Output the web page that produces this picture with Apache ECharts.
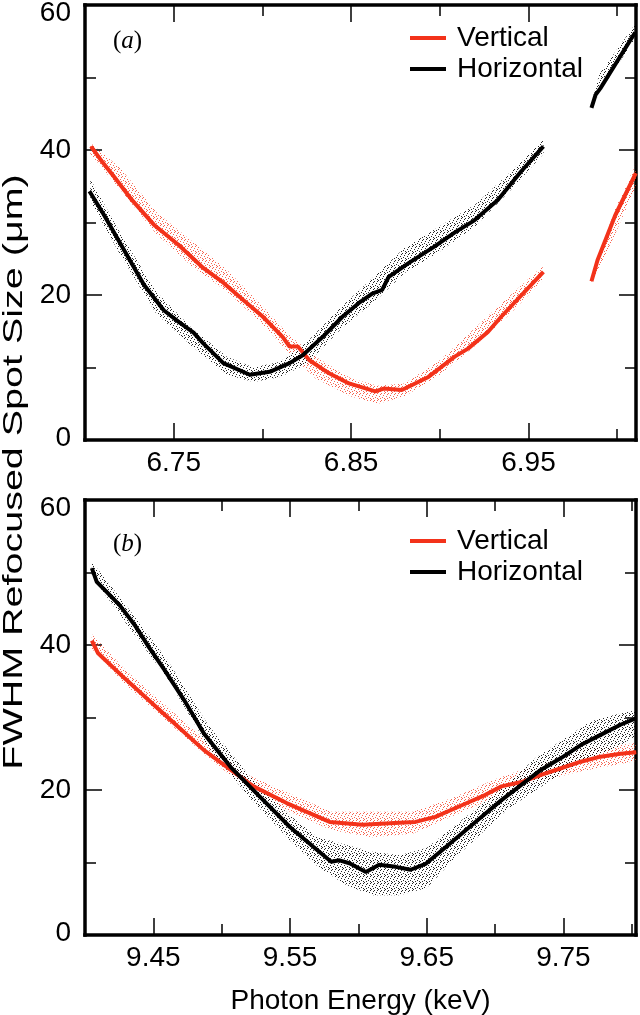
<!DOCTYPE html>
<html><head><meta charset="utf-8">
<script src="https://cdn.jsdelivr.net/npm/echarts@6/dist/echarts.min.js"></script>
<style>html,body{margin:0;padding:0;background:#fff}#c{width:640px;height:1015px}</style>
</head><body><div id="c"></div>
<script>
// ---------------- data ----------------
const seriesNames = ['Vertical', 'Horizontal'];
const panelLabels = ['a', 'b'];
const xTickLabelsA = ['6.75', '6.85', '6.95'];
const xTickLabelsB = ['9.45', '9.55', '9.65', '9.75'];
const yTickLabels = ['0', '20', '40', '60'];
const xTitle = 'Photon Energy (keV)';
const yTitle = 'FWHM Refocused Spot Size (\u03bcm)';
const xRangeA = [6.70, 7.0106];
const xRangeB = [9.40, 9.8031];
const yRange = [0, 60];

// panel (a) lines  [photon energy keV, FWHM um]
const vertA1 = [[6.7034,40.5],[6.709,38.6],[6.7164,36.3],[6.7258,33.3],[6.7388,29.7],[6.7528,26.9],[6.7668,23.7],[6.778,21.7],[6.7892,19.3],[6.8003,17.0],[6.8115,14.2],[6.8153,12.9],[6.82,12.9],[6.8265,11.0],[6.8376,9.2],[6.8488,7.8],[6.8637,6.7],[6.8684,7.1],[6.8786,6.9],[6.8936,8.7],[6.9084,11.5],[6.9159,12.6],[6.9271,14.9],[6.9346,17.0],[6.9584,23.2]];
const vertA2 = [[6.9855,21.9],[6.9889,24.8],[6.9989,31.0],[7.0105,36.8]];
const horA1 = [[6.7025,34.3],[6.7108,31.0],[6.722,26.2],[6.7332,21.4],[6.7444,17.9],[6.7528,16.3],[6.7612,14.8],[6.7668,13.3],[6.778,10.6],[6.7929,9.0],[6.8041,9.4],[6.8153,10.6],[6.8227,11.7],[6.8339,14.2],[6.8451,17.0],[6.8544,18.9],[6.8619,20.2],[6.8675,20.7],[6.8712,22.5],[6.8824,24.4],[6.8971,26.7],[6.9083,28.6],[6.9195,30.3],[6.9327,33.1],[6.9457,37.0],[6.9584,40.5]];
const horA2 = [[6.9855,45.8],[6.9878,47.6],[6.9905,48.5],[7.0101,56.2]];
// panel (a) measurement clouds  [keV, low, high]
const cloudVertA1 = [[6.703,39.5,41.0],[6.72,34.5,37.5],[6.74,28.5,31.5],[6.76,24.0,27.5],[6.78,20.5,23.5],[6.80,16.0,18.5],[6.815,12.0,14.5],[6.83,8.5,11.5],[6.85,6.0,8.5],[6.865,5.0,7.5],[6.88,6.0,7.8],[6.90,9.0,11.0],[6.92,13.0,15.5],[6.94,17.5,20.0],[6.958,22.0,24.0]];
const cloudVertA2 = [[6.9855,21.5,22.5],[6.999,28.5,32.0],[7.0105,35.0,38.0]];
const cloudHorA1 = [[6.703,33.0,36.0],[6.72,25.5,28.5],[6.74,17.5,20.5],[6.76,13.0,15.5],[6.78,9.0,11.5],[6.795,8.0,10.0],[6.81,8.7,10.8],[6.825,10.5,13.5],[6.845,15.5,18.5],[6.865,19.5,23.0],[6.88,23.0,26.5],[6.90,26.0,29.5],[6.92,29.5,32.5],[6.94,34.5,37.0],[6.9585,39.5,41.5]];
const cloudHorA2 = [[6.9855,45.5,46.5],[6.99,48.0,50.5],[7.0105,55.5,57.5]];

// panel (b) lines
const vertB = [[9.4050,40.6],[9.4094,38.9],[9.4290,35.4],[9.4507,31.7],[9.4689,28.6],[9.4870,25.5],[9.5064,22.8],[9.5233,20.5],[9.5475,18.2],[9.5790,15.6],[9.6031,15.2],[9.6225,15.4],[9.6418,15.6],[9.6563,16.3],[9.6757,17.9],[9.6926,19.3],[9.7047,20.5],[9.7192,21.1],[9.7337,22.1],[9.7482,23.0],[9.7627,23.9],[9.7772,24.6],[9.7917,25.0],[9.8033,25.2]];
const horB = [[9.4050,50.6],[9.4086,48.7],[9.4144,47.6],[9.4253,45.5],[9.4362,42.8],[9.4471,39.6],[9.4580,36.6],[9.4725,32.4],[9.4870,27.8],[9.5064,23.2],[9.5257,19.5],[9.5499,14.9],[9.5668,12.2],[9.5801,10.1],[9.5862,10.3],[9.5935,9.9],[9.6055,8.7],[9.6152,9.7],[9.6273,9.4],[9.6382,9.0],[9.6491,9.8],[9.6612,11.7],[9.6757,14.0],[9.6902,16.3],[9.7047,18.6],[9.7192,20.7],[9.7337,22.8],[9.7482,24.4],[9.7627,26.2],[9.7772,27.6],[9.7917,29.0],[9.8033,29.9]];
const cloudVertB = [[9.405,39.5,41.5],[9.43,34.5,36.5],[9.46,29.5,31.5],[9.49,24.5,26.5],[9.52,20.0,22.0],[9.55,17.0,19.5],[9.58,14.5,17.0],[9.61,13.5,17.0],[9.64,14.0,17.0],[9.67,16.5,19.0],[9.70,19.0,21.5],[9.73,21.0,23.5],[9.76,22.5,25.5],[9.803,24.0,26.5]];
const cloudHorB = [[9.405,49.5,51.5],[9.43,43.0,45.5],[9.46,35.5,38.0],[9.49,26.0,29.0],[9.52,19.0,22.0],[9.55,13.0,16.5],[9.57,9.5,13.5],[9.59,7.0,12.5],[9.61,5.5,11.5],[9.63,5.5,11.0],[9.65,6.5,12.0],[9.67,10.5,15.0],[9.69,14.0,18.0],[9.71,17.5,21.0],[9.73,20.0,24.5],[9.75,22.5,27.0],[9.77,24.5,29.5],[9.79,26.0,30.5],[9.803,27.5,31.0]];

// ---------------- style / layout ----------------
const FONT = '"Liberation Sans", Arial, Helvetica, sans-serif';
const SERIF = '"Liberation Serif", "Times New Roman", serif';
const RED = '#f3321a';
const BLACK = '#000000';
const W = 640;
const GL = 85, GR = 4;               // data-grid left / right
const GW = W - GL - GR;
const PANELS = [{top: 5, height: 435}, {top: 500, height: 435}];
const AXW = 3.5, TKW = 1.5, MINLEN = 11, MAJLEN = 17;

function speckle(color, size, pts) {
  const c = document.createElement('canvas');
  c.width = size; c.height = size;
  const g = c.getContext('2d');
  g.fillStyle = color;
  pts.forEach(p => g.fillRect(p[0], p[1], 1, 1));
  return {image: c, repeat: 'repeat'};
}
const DOTS = [[0,0],[3,1],[5,3],[1,4],[4,5],[6,6],[2,2],[6,1],[2,6]];
const blackFill = speckle('rgba(0,0,0,0.85)', 7, DOTS);
const redFill = speckle('rgba(245,60,35,0.8)', 7, DOTS);

function helperLeft(range, firstLabel) {
  return GL + (parseFloat(firstLabel) - range[0]) * GW / (range[1] - range[0]);
}

const grids = [
  {left: GL, right: GR, top: PANELS[0].top, height: PANELS[0].height},
  {left: helperLeft(xRangeA, xTickLabelsA[0]), right: GR, top: PANELS[0].top, height: PANELS[0].height},
  {left: GL, right: GR, top: PANELS[1].top, height: PANELS[1].height},
  {left: helperLeft(xRangeB, xTickLabelsB[0]), right: GR, top: PANELS[1].top, height: PANELS[1].height}
].map(g => Object.assign({outerBoundsMode: 'none', containLabel: false, show: false}, g));

const labelStyle = {fontSize: 28, fontFamily: FONT, color: '#000'};

function frameX(grid, pos, range) {
  return {type: 'value', gridIndex: grid, position: pos, min: range[0], max: range[1], interval: 0.05,
    axisLine: {show: true, onZero: false, lineStyle: {color: BLACK, width: AXW, cap: 'square'}},
    axisTick: {show: true, inside: true, length: MINLEN, lineStyle: {color: BLACK, width: TKW}},
    axisLabel: {show: false}, splitLine: {show: false}, minorTick: {show: false}};
}
function majorX(grid, pos, range, labels) {
  return {type: 'value', gridIndex: grid, position: pos, min: parseFloat(labels[0]), max: range[1], interval: 0.1,
    axisLine: {show: false, onZero: false},
    axisTick: {show: true, inside: true, length: MAJLEN, lineStyle: {color: BLACK, width: TKW}},
    axisLabel: pos === 'bottom' ? Object.assign({show: true, margin: 9, showMinLabel: true, showMaxLabel: true, hideOverlap: false,
      formatter: v => { const s = v.toFixed(2); return labels.indexOf(s) >= 0 ? s : ''; }}, labelStyle) : {show: false},
    splitLine: {show: false}};
}
function frameY(grid, pos) {
  return {type: 'value', gridIndex: grid, position: pos, min: yRange[0], max: yRange[1], interval: 10,
    axisLine: {show: true, onZero: false, lineStyle: {color: BLACK, width: AXW, cap: 'square'}},
    axisTick: {show: true, inside: true, length: MINLEN, lineStyle: {color: BLACK, width: TKW}},
    axisLabel: {show: false}, splitLine: {show: false}};
}
function majorY(grid, pos) {
  return {type: 'value', gridIndex: grid, position: pos, min: yRange[0], max: yRange[1], interval: 20,
    axisLine: {show: false, onZero: false},
    axisTick: {show: true, inside: true, length: MAJLEN, lineStyle: {color: BLACK, width: TKW}},
    axisLabel: pos === 'left' ? Object.assign({show: true, margin: 14, showMinLabel: true, showMaxLabel: true, hideOverlap: false,
      formatter: v => { const s = String(v); if (yTickLabels.indexOf(s) < 0) return '';
        if (v === yRange[1]) return '{t|' + s + '}'; if (v === yRange[0]) return '{b|' + s + '}'; return s; },
      rich: {t: Object.assign({padding: [16, 0, 0, 0]}, labelStyle), b: Object.assign({padding: [0, 0, 4, 0]}, labelStyle)}}, labelStyle) : {show: false},
    splitLine: {show: false}};
}
function dummyAxis(grid) {
  return {type: 'value', gridIndex: grid, show: false, min: 0, max: 1};
}

const xAxes = [
  frameX(0, 'bottom', xRangeA), frameX(0, 'top', xRangeA),
  majorX(1, 'bottom', xRangeA, xTickLabelsA), majorX(1, 'top', xRangeA, xTickLabelsA),
  Object.assign(frameX(2, 'bottom', xRangeB), {name: xTitle, nameLocation: 'middle', nameGap: 52,
    nameTextStyle: {fontSize: 28, fontFamily: FONT, color: '#000'}}),
  frameX(2, 'top', xRangeB),
  majorX(3, 'bottom', xRangeB, xTickLabelsB), majorX(3, 'top', xRangeB, xTickLabelsB)
];
const yAxes = [
  frameY(0, 'left'), majorY(0, 'left'), frameY(0, 'right'), majorY(0, 'right'), dummyAxis(1),
  frameY(2, 'left'), majorY(2, 'left'), frameY(2, 'right'), majorY(2, 'right'), dummyAxis(3)
];

function band(rows, xi, yi, fill) {
  return {type: 'custom', xAxisIndex: xi, yAxisIndex: yi, silent: true, z: 1, clip: true,
    data: rows, encode: {x: 0, y: [1, 2]},
    renderItem: function (params, api) {
      if (params.dataIndex !== 0) return null;
      const up = rows.map(r => api.coord([r[0], r[2]]));
      const lo = rows.slice().reverse().map(r => api.coord([r[0], r[1]]));
      return {type: 'polygon', shape: {points: up.concat(lo)}, style: {fill: fill}};
    }};
}
function line(name, data, xi, yi, color) {
  return {type: 'line', name: name, data: data, xAxisIndex: xi, yAxisIndex: yi,
    showSymbol: false, symbol: 'none', z: 3, clip: true,
    lineStyle: {color: color, width: 4}, itemStyle: {color: color}};
}

const series = [
  band(cloudVertA1, 0, 0, redFill), band(cloudVertA2, 0, 0, redFill),
  band(cloudHorA1, 0, 0, blackFill), band(cloudHorA2, 0, 0, blackFill),
  band(cloudVertB, 4, 5, redFill), band(cloudHorB, 4, 5, blackFill),
  line(seriesNames[0], vertA1, 0, 0, RED), line(seriesNames[0], vertA2, 0, 0, RED),
  line(seriesNames[1], horA1, 0, 0, BLACK), line(seriesNames[1], horA2, 0, 0, BLACK),
  line(seriesNames[0], vertB, 4, 5, RED), line(seriesNames[1], horB, 4, 5, BLACK)
];

function legendAt(top) {
  return {data: seriesNames, orient: 'vertical', left: 410, top: top, padding: 0,
    itemWidth: 36, itemHeight: 4, itemGap: 3, icon: 'rect', selectedMode: false,
    textStyle: {fontSize: 28, fontFamily: FONT, color: '#000', lineHeight: 28, padding: [0, 0, 0, 6]}};
}
function panelTitle(letter, top) {
  return {text: '{p|(}{i|' + letter + '}{p|)}', left: 113, top: top, padding: 0,
    textStyle: {fontWeight: 'normal', rich: {
      p: {fontFamily: SERIF, fontSize: 25, fontStyle: 'normal', fontWeight: 'normal', color: '#000'},
      i: {fontFamily: SERIF, fontSize: 25, fontStyle: 'italic', fontWeight: 'normal', color: '#000'}}}};
}

const chart = echarts.init(document.getElementById('c'), null, {renderer: 'canvas', width: 640, height: 1015});
chart.setOption({
  animation: false,
  backgroundColor: '#ffffff',
  title: [panelTitle(panelLabels[0], 29), panelTitle(panelLabels[1], 532)],
  legend: [legendAt(24), legendAt(527)],
  grid: grids,
  xAxis: xAxes,
  yAxis: yAxes,
  graphic: [{
    type: 'text', x: 14, y: 472, rotation: Math.PI / 2, scaleX: 1.41, silent: true,
    style: {text: yTitle, font: '28px ' + FONT, fill: '#000', align: 'center', verticalAlign: 'middle'}
  }],
  series: series
});
</script></body></html>
